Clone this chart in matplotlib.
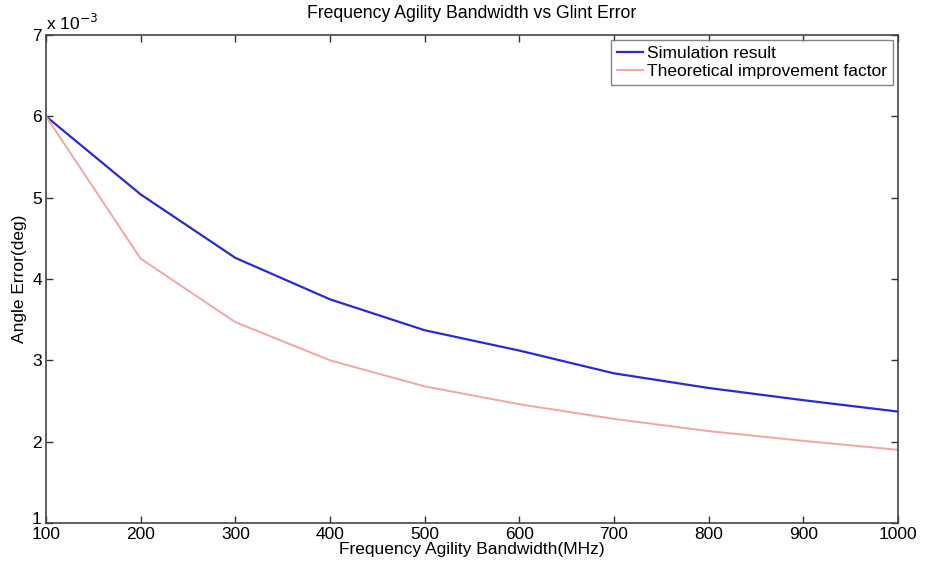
import matplotlib
matplotlib.use("Agg")
import matplotlib.pyplot as plt
from matplotlib.ticker import FuncFormatter
import matplotlib.transforms as mtransforms

plt.rcParams['font.family'] = ['Liberation Sans', 'DejaVu Sans']

bandwidth = [100, 200, 300, 400, 500, 600, 700, 800, 900, 1000]
simulation = [6.0e-3, 5.04e-3, 4.26e-3, 3.75e-3, 3.37e-3, 3.12e-3, 2.84e-3, 2.66e-3, 2.51e-3, 2.37e-3]
theoretical = [6.0e-3, 4.25e-3, 3.47e-3, 3.0e-3, 2.68e-3, 2.46e-3, 2.28e-3, 2.13e-3, 2.01e-3, 1.9e-3]
xticks = [100, 200, 300, 400, 500, 600, 700, 800, 900, 1000]
yticks = [1e-3, 2e-3, 3e-3, 4e-3, 5e-3, 6e-3, 7e-3]

fig = plt.figure(figsize=(9.25, 5.67), dpi=100)
ax = fig.add_axes([46/925, 1 - 523/567, (898-46)/925, (523-35)/567])

ax.plot(bandwidth, simulation, color='#2a2ad8', lw=1.6, label='Simulation result')
ax.plot(bandwidth, theoretical, color='#f4a4a4', lw=1.4, label='Theoretical improvement factor')

ax.set_xlim(100, 1000)
ax.set_ylim(1e-3, 7e-3)
ax.set_xticks(xticks)
ax.set_yticks(yticks)
ax.yaxis.set_major_formatter(FuncFormatter(lambda v, p: f"{round(v*1e3):d}"))
ax.tick_params(direction='in', top=True, right=True, length=5, width=1, color='#333333',
               labelsize=12.5, pad=3)
for s in ax.spines.values():
    s.set_color('#444444')
    s.set_linewidth(1.2)

fig.canvas.draw()
ylabels = ax.get_yticklabels()
shift = mtransforms.ScaledTranslation(0, 5/100, fig.dpi_scale_trans)
ylabels[0].set_transform(ylabels[0].get_transform() + shift)

ax.text(0.0, 1.005, r'x 10$^{-3}$', transform=ax.transAxes, fontsize=12.5, ha='left', va='bottom')
ax.set_title('Frequency Agility Bandwidth vs Glint Error', fontsize=12.7, pad=12)
ax.set_xlabel('Frequency Agility Bandwidth(MHz)', fontsize=12.5, labelpad=0)
ax.set_ylabel('Angle Error(deg)', fontsize=12.5, labelpad=4)

leg = ax.legend(loc='upper right', fontsize=12.5, frameon=True, fancybox=False,
                handlelength=1.5, handletextpad=0.2, borderaxespad=0.3,
                labelspacing=0.15, borderpad=0.35)
leg.get_frame().set_edgecolor('#666666')
leg.get_frame().set_linewidth(1.0)

fig.savefig('out.png', dpi=100)
